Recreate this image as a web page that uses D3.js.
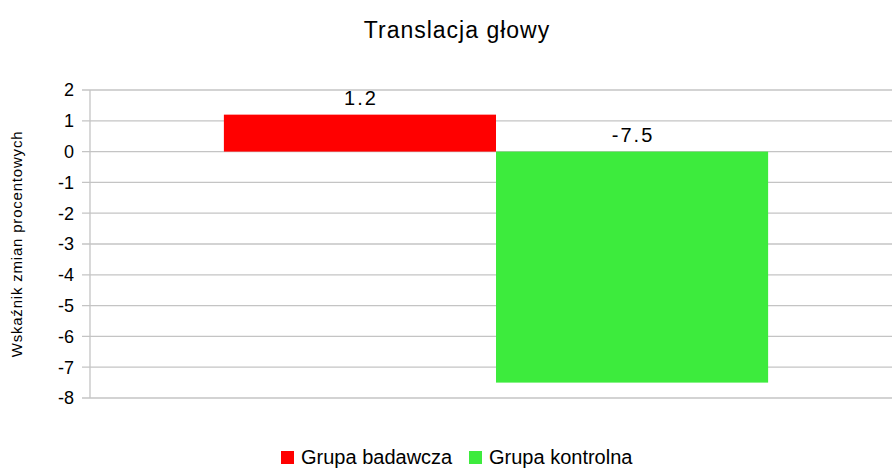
<!DOCTYPE html>
<html>
<head>
<meta charset="utf-8">
<script src="https://cdn.jsdelivr.net/npm/d3@7/dist/d3.min.js"></script>
<style>
  body { margin: 0; background: #fff; }
  text { font-family: "Liberation Sans", Arial, sans-serif; fill: #000; }
</style>
</head>
<body>
<svg id="chart" width="892" height="468"></svg>
<script>
var categories = ["Translacja głowy"];
var seriesNames = ["Grupa badawcza", "Grupa kontrolna"];
var seriesValues = [1.2, -7.5];
var seriesColors = ["#ff0000", "#3deb3d"];
var yTicks = [2, 1, 0, -1, -2, -3, -4, -5, -6, -7, -8];

var svg = d3.select('#chart');
var plotLeft = 90, plotRight = 902, plotTop = 90, plotBottom = 398;

var y = d3.scaleLinear().domain([-8, 2]).range([plotBottom, plotTop]);
var x = d3.scaleBand().domain(categories).range([plotLeft, plotRight]).paddingOuter(0.246);
var xs = d3.scaleBand().domain(seriesNames).range([0, x.bandwidth()]);

// gridlines
svg.append('g').selectAll('line').data(yTicks).enter().append('line')
  .attr('x1', plotLeft - 8).attr('x2', 892)
  .attr('y1', function(d){ return y(d); }).attr('y2', function(d){ return y(d); })
  .attr('stroke', '#c4c4c4').attr('stroke-width', 1.3);

svg.append('line').attr('x1', plotLeft).attr('x2', plotLeft).attr('y1', plotTop).attr('y2', plotBottom)
  .attr('stroke', '#c4c4c4').attr('stroke-width', 1.3);

// tick labels
svg.append('g').selectAll('text').data(yTicks).enter().append('text')
  .attr('x', plotLeft - 16).attr('y', function(d){ return y(d); })
  .attr('dy', '0.36em').attr('text-anchor', 'end').style('font-size', '18px')
  .text(function(d){ return d; });

// bars
var g = svg.append('g').attr('transform', 'translate(' + x(categories[0]) + ',0)');
g.selectAll('rect').data(seriesValues).enter().append('rect')
  .attr('x', function(d, i){ return xs(seriesNames[i]); })
  .attr('width', xs.bandwidth())
  .attr('y', function(d){ return y(Math.max(0, d)); })
  .attr('height', function(d){ return Math.abs(y(d) - y(0)); })
  .attr('fill', function(d, i){ return seriesColors[i]; });

g.selectAll('text.lbl').data(seriesValues).enter().append('text').attr('class', 'lbl')
  .attr('x', function(d, i){ return xs(seriesNames[i]) + xs.bandwidth() / 2 + 1; })
  .attr('y', function(d){ return Math.min(y(d), y(0)) - 10; })
  .attr('text-anchor', 'middle').style('font-size', '20px').style('letter-spacing', '2px')
  .text(function(d){ return d.toFixed(1); });

// title
svg.append('text').attr('x', 457).attr('y', 38).attr('text-anchor', 'middle')
  .style('font-size', '23px').style('letter-spacing', '1px').text(categories[0]);

// y label
svg.append('text').attr('transform', 'translate(22,244) rotate(-90)')
  .attr('text-anchor', 'middle').style('font-size', '15px').style('letter-spacing', '0.8px')
  .text('Wskaźnik zmian procentowych');

// legend
var legendX = [281, 469];
var lg = svg.append('g').selectAll('g').data(seriesNames).enter().append('g')
  .attr('transform', function(d, i){ return 'translate(' + legendX[i] + ',451)'; });
lg.append('rect').attr('width', 13).attr('height', 13).attr('y', 0)
  .attr('fill', function(d, i){ return seriesColors[i]; });
lg.append('text').attr('x', 20).attr('y', 13).style('font-size', '20px')
  .text(function(d){ return d; });
</script>
</body>
</html>
